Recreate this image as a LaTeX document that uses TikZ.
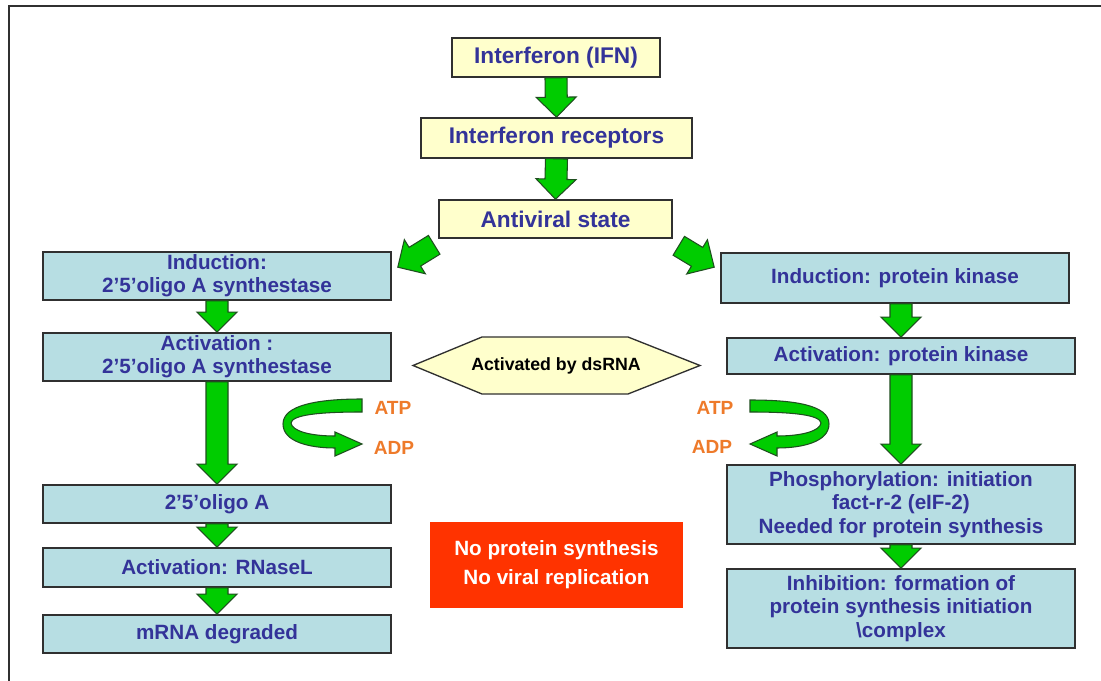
\documentclass[tikz,border=0pt]{standalone}
\usepackage{fontspec}
\setmainfont{Liberation Sans}
\usetikzlibrary{calc}
\definecolor{yfill}{HTML}{FFFFCC}
\definecolor{bfill}{HTML}{B7DEE3}
\definecolor{tblue}{HTML}{333399}
\definecolor{aorange}{HTML}{EE7A2A}
\definecolor{rfill}{HTML}{FF3300}
\definecolor{agreen}{HTML}{00CC00}
\definecolor{aline}{HTML}{1F4F1F}
\definecolor{bline}{HTML}{303030}
\tikzset{
  sz/.style 2 args={minimum width=#1*0.75pt, minimum height=#2*0.75pt},
  ybox/.style={draw=bline, line width=1.2pt, fill=yfill, text=tblue, inner sep=0pt,
    font=\fontsize{17}{20}\selectfont\bfseries},
  bbox/.style={draw=bline, line width=1.2pt, fill=bfill, text=tblue, inner sep=0pt, align=center,
    font=\fontsize{15.5}{17.5}\selectfont\bfseries},
  barrowstyle/.style={draw=aline, line width=0.8pt, fill=agreen, line join=miter},
  atp/.style={text=aorange, font=\fontsize{14.3}{16}\selectfont\bfseries, inner sep=0pt},
}
\newcommand\barrow[2]{%
  \coordinate (hb) at ($(#2)!15pt!(#1)$);
  \draw[barrowstyle] ($(#1)!8.25pt!90:(#2)$) -- ($(hb)!8.25pt!-90:(#1)$) -- ($(hb)!15pt!-90:(#1)$) -- (#2)
    -- ($(hb)!15pt!90:(#1)$) -- ($(hb)!8.25pt!90:(#1)$) -- ($(#1)!8.25pt!-90:(#2)$) -- cycle;
}
\begin{document}
\begin{tikzpicture}[x=0.75pt,y=-0.75pt]
\useasboundingbox (0,0) rectangle (1101,681);
\fill[white] (0,0) rectangle (1101,681);
\draw[bline, line width=1.5pt] (8.5,681) -- (8.5,6.5) -- (1101,6.5);

% top chain
\node[ybox, sz={208}{39}] (ifn) at (556,57.5) {Interferon (IFN)};
\node[ybox, sz={271}{40}] (rec) at (556.5,138) {Interferon receptors};
\node[ybox, sz={233}{38}] (av) at (555.5,219) {Antiviral state};

% left chain
\node[bbox, sz={348}{48}] (ind1) at (217,276) {Induction:\\2’5’oligo A synthestase};
\node[bbox, sz={348}{48}] (act1) at (217,357) {Activation :\\2’5’oligo A synthestase};
\node[bbox, sz={348}{38}] (oligo) at (217,504) {2’5’oligo A};
\node[bbox, sz={348}{39}] (rnase) at (217,567.5) {Activation: RNaseL};
\node[bbox, sz={348}{38}] (mrna) at (217,634) {mRNA degraded};

% right chain
\node[bbox, sz={348}{50}] (ind2) at (895,278) {Induction: protein kinase};
\node[bbox, sz={348}{36}] (act2) at (901,356) {Activation: protein kinase};
\node[bbox, sz={348}{79}] (phos) at (901,504.5) {Phosphorylation: initiation\\fact-r-2 (eIF-2)\\Needed for protein synthesis};
\node[bbox, sz={348}{79}] (inh) at (901,608.5) {Inhibition: formation of\\protein synthesis initiation\\\textbackslash complex};

% hexagon
\draw[draw=bline, line width=1pt, fill=yfill] (413,365.5) -- (482,337) -- (628,337) -- (700,365.5) -- (628,394) -- (482,394) -- cycle;
\node[font=\fontsize{13.3}{15}\selectfont\bfseries, inner sep=0pt] (dsrna) at (556,365.5) {Activated by dsRNA};

% red box
\node[fill=rfill, text=white, align=center, inner sep=0pt, sz={253}{86},
  font=\fontsize{15.5}{21.75}\selectfont\bfseries] (red) at (556.5,565) {No protein synthesis\\No viral replication};

% block arrows
\barrow{ifn.south}{rec.north}
\barrow{rec.south}{av.north}
\coordinate (dl0) at ($(av.south west)+(-4,6)$);
\coordinate (dl1) at ($(ind1.north east)+(6,16)$);
\barrow{dl0}{dl1}
\coordinate (dr0) at ($(av.south east)+(6,7)$);
\coordinate (dr1) at ($(ind2.north west)+(-6,15)$);
\barrow{dr0}{dr1}
\barrow{ind1.south}{act1.north}
\barrow{act1.south}{oligo.north}
\barrow{oligo.south}{rnase.north}
\barrow{rnase.south}{mrna.north}
\coordinate (r0) at (ind2.south -| act2.north);
\barrow{r0}{act2.north}
\barrow{act2.south}{phos.north}
\barrow{phos.south}{inh.north}

% curved ATP/ADP arrows
\draw[barrowstyle] (362,399) .. controls (318,399) and (283,405) .. (283,424) .. controls (283,442) and (310,448) .. (335,448) -- (335,456) -- (362,444) -- (335,432) -- (335,436) .. controls (310,436) and (292,431) .. (291,423) .. controls (292,415) and (318,412) .. (362,412) -- cycle;
\draw[barrowstyle] (750,400) .. controls (794,400) and (829,405) .. (829,424) .. controls (829,442) and (802,448) .. (777,448) -- (777,456) -- (750,444) -- (777,432) -- (777,436) .. controls (802,436) and (820,431) .. (821,423) .. controls (820,415) and (794,412) .. (750,412) -- cycle;

\node[atp] (atpl) at (393,408) {ATP};
\node[atp] (adpl) at (394,448) {ADP};
\node[atp] (atpr) at (715,408) {ATP};
\node[atp] (adpr) at (712,447) {ADP};
\end{tikzpicture}
\end{document}
